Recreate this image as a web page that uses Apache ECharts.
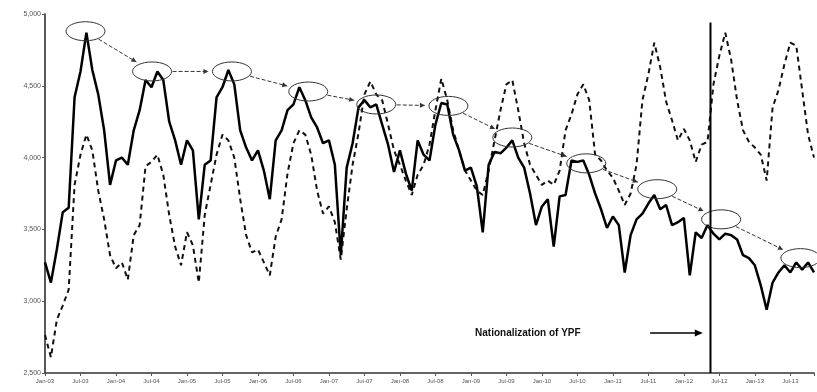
<!DOCTYPE html>
<html><head><meta charset="utf-8">
<script src="https://cdn.jsdelivr.net/npm/echarts@6/dist/echarts.min.js"></script>
<style>html,body{margin:0;padding:0;background:#fff}#c{width:817px;height:392px}</style>
</head><body><div id="c"></div>
<script>
const tickLabels = ["Jan-03","Jul-03","Jan-04","Jul-04","Jan-05","Jul-05","Jan-06","Jul-06","Jan-07","Jul-07","Jan-08","Jul-08","Jan-09","Jul-09","Jan-10","Jul-10","Jan-11","Jul-11","Jan-12","Jul-12","Jan-13","Jul-13"];
const solid = [3270,3130,3360,3620,3650,4420,4600,4870,4610,4440,
4190,3810,3980,4000,3950,4190,4330,4540,4490,4600,
4540,4250,4120,3950,4120,4050,3570,3950,3980,4420,
4490,4610,4510,4190,4070,3980,4050,3910,3710,4120,
4190,4330,4370,4490,4400,4280,4210,4100,4120,3950,
3320,3930,4100,4350,4400,4350,4370,4230,4090,3900,
4050,3890,3770,4120,4020,3980,4230,4380,4370,4160,
4050,3910,3930,3800,3480,3950,4040,4030,4070,4120,
4000,3930,3750,3530,3660,3710,3380,3730,3740,3980,
3970,3980,3880,3750,3640,3510,3590,3530,3200,3460,
3570,3610,3680,3740,3640,3670,3530,3550,3580,3180,
3480,3440,3530,3470,3430,3470,3460,3430,3320,3300,
3250,3110,2940,3130,3200,3250,3200,3270,3220,3270,
3200];
const dashed = [2765,2610,2870,2970,3080,3810,4020,4160,4050,3770,
3570,3320,3230,3270,3150,3460,3530,3940,3970,4020,
3880,3600,3380,3250,3480,3390,3130,3600,3810,4020,
4160,4120,4000,3710,3460,3340,3360,3270,3180,3450,
3570,3890,4100,4190,4160,4020,3770,3610,3660,3550,
3290,3640,3950,4170,4440,4530,4440,4400,4230,4050,
3950,3840,3740,3880,3950,4090,4330,4550,4400,4190,
4050,3910,3840,3770,3740,3910,4120,4330,4510,4540,
4330,4100,3950,3880,3810,3840,3810,3910,4190,4300,
4440,4510,4400,4020,3980,3910,3860,3770,3670,3750,
3950,4400,4580,4800,4630,4390,4260,4120,4200,4120,
3970,4090,4110,4510,4710,4870,4680,4400,4190,4110,
4070,4020,3840,4350,4470,4650,4800,4780,4470,4160,
4000];
const peakIdx = [6.85,18.1,31.6,44.5,56,68.2,79,91.5,103.5,114.3,127.7];
const peakVal = [4880,4600,4600,4460,4370,4360,4140,3960,3780,3570,3300];
const nationalIdx = 112.5;
const nationalTop = 4940;
const noteText = 'Nationalization of YPF';
const noteIdx = 72.7;
const noteVal = 2778;
const noteArrowFrom = 102.3;
const noteArrowTo = 111.2;

const xs = (arr) => arr.map((v, i) => [i, v]);

const chart = echarts.init(document.getElementById('c'));
chart.setOption({
  animation: false,
  backgroundColor: '#fff',
  grid: {left: 45, right: 3, top: 14, bottom: 19},
  xAxis: {
    type: 'value', min: 0, max: 130, interval: 6,
    splitLine: {show: false},
    axisLine: {show: true, lineStyle: {color: '#333', width: 1.5}},
    axisTick: {show: true, length: 3, lineStyle: {color: '#555'}},
    axisLabel: {fontSize: 6, color: '#555', margin: 5,
      formatter: v => (v % 6 === 0 && tickLabels[v / 6]) ? tickLabels[v / 6] : ''}
  },
  yAxis: {
    type: 'value', min: 2500, max: 5000, interval: 500,
    splitLine: {show: false},
    axisLine: {show: true, lineStyle: {color: '#222', width: 1.5}},
    axisTick: {show: true, length: 3, lineStyle: {color: '#555'}},
    axisLabel: {fontSize: 7, color: '#555', margin: 4,
      formatter: v => v.toLocaleString('en-US')}
  },
  series: [
    {type: 'line', data: xs(dashed), symbol: 'none', z: 2,
      lineStyle: {color: '#111', width: 2, type: [5, 4]}},
    {type: 'line', data: xs(solid), symbol: 'none', z: 3,
      lineStyle: {color: '#000', width: 2.5}}
  ]
});

function arrowHead(e, dx, dy, hl, hw, color) {
  return {type: 'polygon', z: 20, shape: {points: [
    [e[0], e[1]],
    [e[0] - dx * hl - dy * hw, e[1] - dy * hl + dx * hw],
    [e[0] - dx * hl + dy * hw, e[1] - dy * hl - dx * hw]]},
    style: {fill: color}};
}

const g = [];
const P = (x, y) => chart.convertToPixel({gridIndex: 0}, [x, y]);
const pts = peakIdx.map((x, i) => P(x, peakVal[i]));
const RX = 19.5, RY = 9.5;
pts.forEach(p => g.push({type: 'ellipse', z: 20, shape: {cx: p[0], cy: p[1], rx: RX, ry: RY},
  style: {fill: null, stroke: '#333', lineWidth: 1}}));
for (let k = 0; k < pts.length - 1; k++) {
  const a = pts[k], b = pts[k + 1];
  let dx = b[0] - a[0], dy = b[1] - a[1];
  const L = Math.hypot(dx, dy); dx /= L; dy /= L;
  const t = 1 / Math.sqrt((dx / RX) ** 2 + (dy / RY) ** 2);
  const s = [a[0] + dx * (t + 1), a[1] + dy * (t + 1)];
  const e = [b[0] - dx * (t + 4), b[1] - dy * (t + 4)];
  g.push({type: 'line', z: 20, shape: {x1: s[0], y1: s[1], x2: e[0], y2: e[1]},
    style: {stroke: '#333', lineWidth: 1, lineDash: [4, 2]}});
  g.push(arrowHead(e, dx, dy, 5, 2.5, '#333'));
}
const vt = P(nationalIdx, nationalTop), vb = P(nationalIdx, 2500);
g.push({type: 'line', z: 21, shape: {x1: vt[0], y1: vt[1], x2: vb[0], y2: vb[1]},
  style: {stroke: '#000', lineWidth: 2}});
const tp = P(noteIdx, noteVal);
g.push({type: 'text', z: 21, x: tp[0], y: tp[1], style: {text: noteText, fill: '#111',
  font: 'bold 10px "Liberation Sans", Arial, sans-serif', textAlign: 'left', textVerticalAlign: 'middle'}});
const a1 = P(noteArrowFrom, noteVal), a2 = P(noteArrowTo, noteVal);
g.push({type: 'line', z: 21, shape: {x1: a1[0], y1: a1[1], x2: a2[0] - 4, y2: a2[1]},
  style: {stroke: '#000', lineWidth: 1.5}});
g.push(arrowHead(a2, 1, 0, 8, 3.5, '#000'));
chart.setOption({graphic: g});
</script>
</body></html>
